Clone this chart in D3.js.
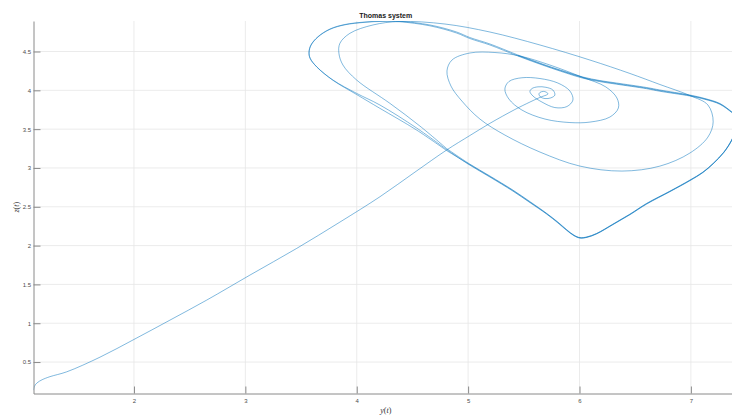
<!DOCTYPE html>
<html>
<head>
<meta charset="utf-8">
<script src="https://cdn.jsdelivr.net/npm/d3@7"></script>
<style>
  body { margin: 0; background: #fff; }
  text { font-family: "Liberation Sans", Arial, sans-serif; }
</style>
</head>
<body>
<div id="chart"></div>
<script>
// trajectory of the Thomas system, [y(t), z(t)]
const approach = [
  [1.098, 0.138], [1.107, 0.190], [1.130, 0.232], [1.175, 0.272], [1.246, 0.312],
  [1.396, 0.374], [1.695, 0.563], [2.000, 0.791], [2.323, 1.040], [2.653, 1.298],
  [3.041, 1.620], [3.461, 1.964], [3.849, 2.303], [4.208, 2.629], [4.523, 2.947],
  [4.807, 3.231], [5.016, 3.418], [5.196, 3.575], [5.420, 3.753], [5.555, 3.849],
  [5.660, 3.918]
];

const spiral = [
  [5.699, 3.937], [5.717, 3.955], [5.699, 3.978], [5.676, 3.986], [5.645, 3.973],
  [5.636, 3.952], [5.649, 3.916], [5.690, 3.894], [5.743, 3.903], [5.779, 3.939],
  [5.761, 4.004], [5.699, 4.039], [5.627, 4.045], [5.573, 4.023], [5.555, 3.985],
  [5.582, 3.927], [5.663, 3.849], [5.779, 3.778], [5.887, 3.791], [5.941, 3.875],
  [5.914, 3.991], [5.806, 4.094], [5.645, 4.152], [5.483, 4.162], [5.366, 4.113],
  [5.330, 4.017], [5.366, 3.888], [5.483, 3.746], [5.690, 3.630], [5.914, 3.585],
  [6.094, 3.591], [6.273, 3.656], [6.349, 3.772], [6.336, 3.901], [6.237, 4.043],
  [6.022, 4.171], [5.734, 4.326], [5.465, 4.442], [5.241, 4.487], [5.016, 4.481],
  [4.855, 4.390], [4.810, 4.249], [4.846, 4.055], [4.944, 3.862], [5.106, 3.630],
  [5.330, 3.424], [5.645, 3.205], [6.004, 3.024], [6.381, 2.960], [6.722, 3.024],
  [6.991, 3.192], [7.153, 3.398], [7.200, 3.595]
];

const innerLap = [
  [7.153, 3.811], [6.991, 3.933], [6.722, 4.075], [6.453, 4.217], [6.094, 4.390],
  [5.645, 4.584], [5.196, 4.751], [4.792, 4.854], [4.388, 4.887], [4.146, 4.842],
  [3.939, 4.735], [3.849, 4.606], [3.840, 4.477], [3.876, 4.326], [3.999, 4.133],
  [4.298, 3.832], [4.567, 3.540], [4.807, 3.250]
];

const lap1 = [
  [5.007, 3.057], [5.196, 2.896], [5.402, 2.715], [5.555, 2.567], [5.705, 2.415],
  [5.806, 2.303], [5.884, 2.206], [5.950, 2.135], [6.004, 2.103], [6.067, 2.112],
  [6.154, 2.157], [6.300, 2.277], [6.453, 2.406], [6.603, 2.544], [6.812, 2.702],
  [6.991, 2.844], [7.108, 2.947], [7.200, 3.059], [7.296, 3.205], [7.366, 3.360],
  [7.404, 3.488], [7.418, 3.604], [7.395, 3.688], [7.366, 3.724], [7.261, 3.830],
  [7.126, 3.894], [6.991, 3.939], [6.722, 4.004], [6.603, 4.036], [6.333, 4.094],
  [6.183, 4.126], [6.031, 4.171], [5.869, 4.242], [5.705, 4.320], [5.447, 4.455],
  [5.196, 4.597], [5.016, 4.680], [4.897, 4.751], [4.657, 4.842], [4.388, 4.889],
  [4.235, 4.893], [4.074, 4.880], [3.894, 4.848], [3.760, 4.790], [3.652, 4.691],
  [3.589, 4.584], [3.571, 4.494], [3.580, 4.416], [3.640, 4.304], [3.786, 4.133],
  [3.999, 3.961], [4.208, 3.811], [4.538, 3.514], [4.807, 3.237]
];

const lap2 = [
  [5.007, 3.044], [5.196, 2.883], [5.402, 2.702], [5.555, 2.554], [5.705, 2.406],
  [5.806, 2.292], [5.884, 2.197], [5.950, 2.128], [6.004, 2.097], [6.067, 2.106],
  [6.154, 2.151], [6.300, 2.270], [6.453, 2.398], [6.603, 2.535], [6.812, 2.695],
  [6.991, 2.836], [7.108, 2.941], [7.200, 3.053], [7.296, 3.199], [7.366, 3.353],
  [7.404, 3.481], [7.418, 3.598], [7.395, 3.682], [7.366, 3.716], [7.261, 3.820],
  [7.126, 3.884], [6.991, 3.927], [6.722, 3.988], [6.603, 4.021], [6.333, 4.079],
  [6.183, 4.112], [6.031, 4.156], [5.869, 4.228], [5.705, 4.307], [5.447, 4.442],
  [5.196, 4.584], [5.016, 4.667], [4.897, 4.738], [4.657, 4.831], [4.388, 4.883],
  [4.235, 4.888], [4.074, 4.876], [3.894, 4.844], [3.760, 4.786], [3.652, 4.687],
  [3.589, 4.580], [3.573, 4.491], [3.582, 4.412], [3.642, 4.300], [3.790, 4.126],
  [3.999, 3.946], [4.208, 3.768], [4.538, 3.488], [4.807, 3.224]
];

const lap3 = [
  [5.007, 3.050], [5.196, 2.889], [5.402, 2.709], [5.555, 2.560], [5.705, 2.411],
  [5.806, 2.298], [5.884, 2.202], [5.950, 2.131], [6.004, 2.100], [6.067, 2.109],
  [6.154, 2.154], [6.300, 2.273], [6.453, 2.402], [6.603, 2.540], [6.812, 2.698],
  [6.991, 2.840], [7.108, 2.944], [7.200, 3.057], [7.296, 3.202], [7.366, 3.357],
  [7.404, 3.485], [7.418, 3.601], [7.395, 3.686], [7.366, 3.720], [7.261, 3.825],
  [7.126, 3.889], [6.991, 3.933], [6.722, 3.996], [6.603, 4.028], [6.333, 4.086],
  [6.183, 4.120], [6.031, 4.164], [5.869, 4.236], [5.705, 4.314], [5.447, 4.448]
];

const xTicks = [2, 3, 4, 5, 6, 7];
const yTicks = [0.5, 1, 1.5, 2, 2.5, 3, 3.5, 4, 4.5];

const width = 732, height = 417;
const box = { left: 33.5, right: 738, top: 21, bottom: 393.5 };

const x = d3.scaleLinear().domain([1.098, 7.423]).range([box.left, box.right]);
const y = d3.scaleLinear().domain([0.095, 4.893]).range([box.bottom, box.top]);

const svg = d3.create('svg')
  .attr('width', width)
  .attr('height', height)
  .style('display', 'block');

svg.append('defs').append('clipPath')
  .attr('id', 'plotClip')
  .append('rect')
  .attr('x', box.left)
  .attr('y', box.top)
  .attr('width', box.right - box.left)
  .attr('height', box.bottom - box.top);

// grid
svg.append('g')
  .selectAll('line')
  .data(xTicks)
  .join('line')
  .attr('x1', d => x(d)).attr('x2', d => x(d))
  .attr('y1', box.top).attr('y2', box.bottom)
  .attr('stroke', '#e6e6e6')
  .attr('stroke-width', 0.8);

svg.append('g')
  .selectAll('line')
  .data(yTicks)
  .join('line')
  .attr('x1', box.left).attr('x2', box.right)
  .attr('y1', d => y(d)).attr('y2', d => y(d))
  .attr('stroke', '#e6e6e6')
  .attr('stroke-width', 0.8);

// trajectory, one path per pass so overlapping laps get darker
const line = d3.line()
  .x(d => x(d[0]))
  .y(d => y(d[1]))
  .curve(d3.curveCatmullRom.alpha(0.5));

const firstRun = approach.concat(spiral, innerLap);
const passes = [
  firstRun,
  [firstRun[firstRun.length - 1]].concat(lap1),
  [lap1[lap1.length - 1]].concat(lap2),
  [lap2[lap2.length - 1]].concat(lap3)
];

svg.append('g')
  .attr('clip-path', 'url(#plotClip)')
  .selectAll('path')
  .data(passes)
  .join('path')
  .attr('d', line)
  .attr('fill', 'none')
  .attr('stroke', '#0072BD')
  .attr('stroke-width', 0.5)
  .attr('stroke-linejoin', 'round');

// axes
const xAxis = svg.append('g')
  .attr('transform', `translate(0, ${box.bottom})`)
  .call(d3.axisBottom(x).tickValues(xTicks).tickFormat(d3.format('d'))
    .tickSizeInner(-7).tickSizeOuter(0).tickPadding(5));

const yAxis = svg.append('g')
  .attr('transform', `translate(${box.left}, 0)`)
  .call(d3.axisLeft(y).tickValues(yTicks).tickFormat(d => String(d))
    .tickSizeInner(-7).tickSizeOuter(0).tickPadding(2.5));

for (const g of [xAxis, yAxis]) {
  g.select('.domain').attr('stroke', '#8a8a8a').attr('stroke-width', 1);
  g.selectAll('.tick line').attr('stroke', '#8a8a8a').attr('stroke-width', 1);
  g.selectAll('.tick text')
    .attr('fill', '#4d4d4d')
    .style('font-size', '6px')
    .style('font-family', '"Liberation Sans", Arial, sans-serif');
}

// title and labels
svg.append('text')
  .attr('x', (box.left + box.right) / 2)
  .attr('y', 17.5)
  .attr('text-anchor', 'middle')
  .style('font-size', '7px')
  .style('font-weight', 'bold')
  .attr('fill', '#1a1a1a')
  .text('Thomas system');

function mathLabel(sel, v) {
  sel.style('font-family', '"Liberation Serif", "DejaVu Serif", serif')
    .style('font-size', '8px')
    .attr('fill', '#333')
    .attr('text-anchor', 'middle');
  sel.append('tspan').style('font-style', 'italic').text(v);
  sel.append('tspan').text('(');
  sel.append('tspan').style('font-style', 'italic').text('t');
  sel.append('tspan').text(')');
}

svg.append('text')
  .attr('x', (box.left + box.right) / 2)
  .attr('y', 413)
  .call(mathLabel, 'y');

svg.append('text')
  .attr('transform', `translate(19, ${(box.top + box.bottom) / 2}) rotate(-90)`)
  .call(mathLabel, 'z');

document.getElementById('chart').appendChild(svg.node());
</script>
</body>
</html>
